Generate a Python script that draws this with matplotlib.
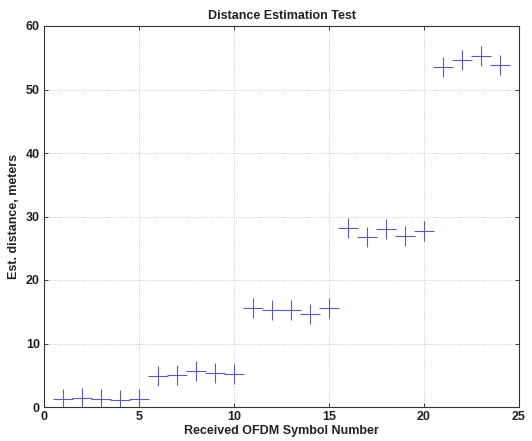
import matplotlib
matplotlib.use("Agg")
import matplotlib.pyplot as plt

symbol_number = list(range(1, 25))
est_distance = [1.25, 1.35, 1.3, 1.15, 1.3,
                4.85, 5.1, 5.7, 5.4, 5.25,
                15.6, 15.35, 15.2, 14.6, 15.6,
                28.2, 26.7, 28.1, 26.9, 27.7,
                53.5, 54.6, 55.2, 53.8]
x_ticks = [0, 5, 10, 15, 20, 25]
y_ticks = [0, 10, 20, 30, 40, 50, 60]

plt.rcParams['font.family'] = ['Liberation Sans', 'DejaVu Sans']

fig = plt.figure(figsize=(5.32, 4.41), dpi=100)
ax = fig.add_axes([44/532, 1 - 407/441, (519-44)/532, (407-26)/441])

ax.plot(symbol_number, est_distance, linestyle='none', marker='+',
        markersize=15, markeredgewidth=0.8, color='#5a5ab8')

ax.set_xlim(0, 25)
ax.set_ylim(0, 60)
ax.set_xticks(x_ticks)
ax.set_yticks(y_ticks)
ax.grid(True, linestyle=(0, (1, 1.5)), color='#c0c0c0', linewidth=0.6)
ax.tick_params(direction='in', length=3, labelsize=9, width=0.6,
               top=True, right=True, pad=3, colors='#222222')
for lab in ax.get_xticklabels() + ax.get_yticklabels():
    lab.set_fontweight('bold')
for sp in ax.spines.values():
    sp.set_color('#333333')
    sp.set_linewidth(0.8)

ax.set_title('Distance Estimation Test', fontsize=9, fontweight='bold', pad=5, color='#222222')
ax.set_xlabel('Received OFDM Symbol Number', fontsize=9, fontweight='bold', labelpad=1, color='#222222')
ax.set_ylabel('Est. distance, meters', fontsize=9, fontweight='bold', labelpad=4, color='#222222')

fig.savefig('out.png', dpi=100)
